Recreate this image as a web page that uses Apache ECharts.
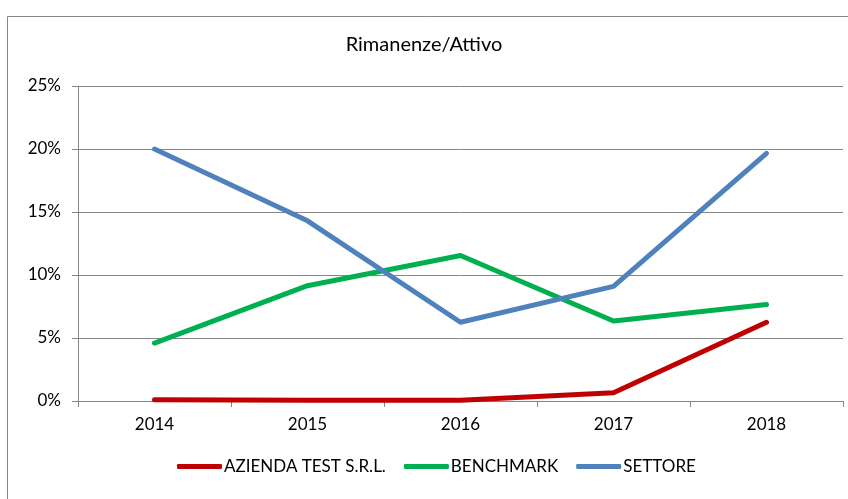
<!DOCTYPE html>
<html>
<head>
<meta charset="utf-8">
<script src="https://cdn.jsdelivr.net/npm/echarts@6/dist/echarts.min.js"></script>
<style>
  html, body { margin: 0; padding: 0; background: #fff; }
  #chart { width: 848px; height: 499px; }
</style>
</head>
<body>
<div id="chart"></div>
<script>
// anni e valori (in %)
const years = ['2014', '2015', '2016', '2017', '2018']
const azienda = [0.1, 0.05, 0.05, 0.65, 6.25]
const benchmark = [4.6, 9.15, 11.55, 6.35, 7.65]
const settore = [20.0, 14.3, 6.25, 9.1, 19.65]

const fontFamily = 'Lato, "Liberation Sans", sans-serif'

const chart = echarts.init(document.getElementById('chart'))

const makeSeries = (name, data, color) => ({
  name: name,
  type: 'line',
  data: data,
  symbol: 'none',
  lineStyle: { color: color, width: 5, cap: 'round', join: 'round' },
  itemStyle: { color: color },
})

chart.setOption({
  animation: false,
  title: {
    text: 'Rimanenze/Attivo',
    left: 'center',
    top: 30,
    textStyle: { fontFamily: fontFamily, fontSize: 20, fontWeight: 'normal', color: '#000' },
  },
  graphic: [
    {
      type: 'rect',
      shape: { x: 7.5, y: 16.5, width: 900, height: 600 },
      style: { fill: 'none', stroke: '#868686', lineWidth: 1 },
      silent: true,
    },
  ],
  legend: {
    bottom: 19,
    left: 172,
    itemWidth: 45,
    itemHeight: 5,
    itemGap: 18,
    icon: 'roundRect',
    textStyle: { fontFamily: fontFamily, fontSize: 17, color: '#000', padding: [0, 0, 0, -3] },
    data: ['AZIENDA TEST S.R.L.', 'BENCHMARK', 'SETTORE'],
  },
  grid: { left: 78, right: 5, top: 86, bottom: 98 },
  xAxis: {
    type: 'category',
    data: years,
    boundaryGap: true,
    axisLine: { lineStyle: { color: '#868686' } },
    axisTick: { show: true, length: 6, lineStyle: { color: '#868686' } },
    axisLabel: { fontFamily: fontFamily, fontSize: 17, color: '#000', margin: 15 },
  },
  yAxis: {
    type: 'value',
    min: 0,
    max: 25,
    interval: 5,
    axisLine: { show: true, lineStyle: { color: '#868686' } },
    axisTick: { show: true, length: 6, lineStyle: { color: '#868686' } },
    axisLabel: { fontFamily: fontFamily, fontSize: 17, color: '#000', margin: 17, formatter: '{value}%' },
    splitLine: { lineStyle: { color: '#868686', width: 1 } },
  },
  series: [
    makeSeries('AZIENDA TEST S.R.L.', azienda, '#C00000'),
    makeSeries('BENCHMARK', benchmark, '#00B050'),
    makeSeries('SETTORE', settore, '#4F81BD'),
  ],
})
</script>
</body>
</html>
